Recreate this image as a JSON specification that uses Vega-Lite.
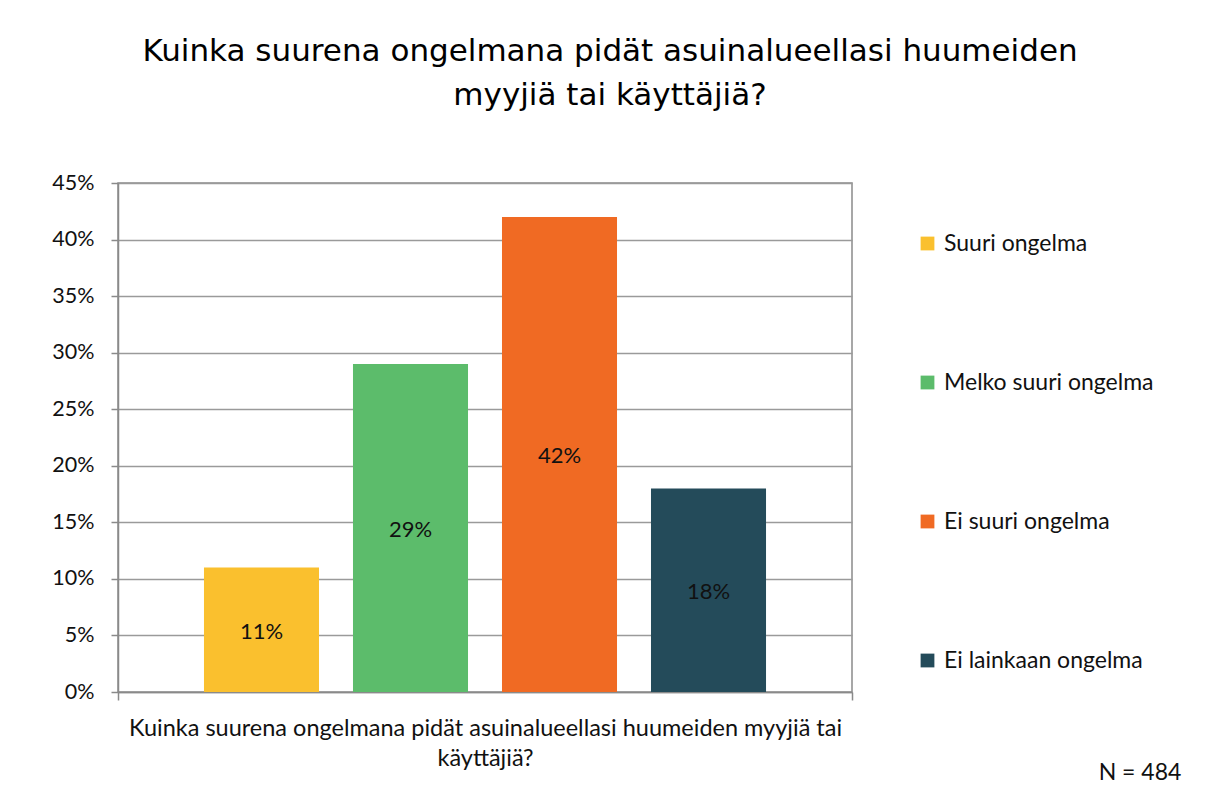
{
  "$schema": "https://vega.github.io/schema/vega-lite/v6.json",
  "width": 734,
  "height": 509,
  "autosize": {"type": "none"},
  "padding": {"left": 118, "top": 183, "right": 358, "bottom": 108},
  "background": "white",
  "title": {
    "text": ["Kuinka suurena ongelmana pidät asuinalueellasi huumeiden", "myyjiä tai käyttäjiä?"],
    "font": "DejaVu Sans",
    "fontSize": 31,
    "fontWeight": "normal",
    "color": "#000000",
    "anchor": "middle",
    "dx": 125,
    "offset": 60,
    "lineHeight": 44
  },
  "data": {
    "values": [
      {"q": "Kuinka suurena ongelmana pidät asuinalueellasi huumeiden myyjiä tai käyttäjiä?", "kategoria": "Suuri ongelma", "osuus": 0.11},
      {"q": "Kuinka suurena ongelmana pidät asuinalueellasi huumeiden myyjiä tai käyttäjiä?", "kategoria": "Melko suuri ongelma", "osuus": 0.29},
      {"q": "Kuinka suurena ongelmana pidät asuinalueellasi huumeiden myyjiä tai käyttäjiä?", "kategoria": "Ei suuri ongelma", "osuus": 0.42},
      {"q": "Kuinka suurena ongelmana pidät asuinalueellasi huumeiden myyjiä tai käyttäjiä?", "kategoria": "Ei lainkaan ongelma", "osuus": 0.18}
    ]
  },
  "config": {
    "view": {"stroke": "#8a8a8a", "strokeWidth": 1.5},
    "font": "Lato",
    "axis": {
      "domainColor": "#8a8a8a",
      "domainWidth": 1.5,
      "tickColor": "#8a8a8a",
      "tickWidth": 1.5,
      "gridColor": "#9a9a9a",
      "gridWidth": 1.5,
      "labelFont": "Lato",
      "labelColor": "#111111",
      "titleFont": "Lato",
      "titleColor": "#111111"
    }
  },
  "encoding": {
    "x": {
      "field": "q",
      "type": "nominal",
      "scale": {"paddingInner": 0, "paddingOuter": 0},
      "axis": {
        "labels": false,
        "tickBand": "extent",
        "tickSize": 8,
        "grid": false,
        "title": ["Kuinka suurena ongelmana pidät asuinalueellasi huumeiden myyjiä tai", "käyttäjiä?"],
        "titleFontSize": 23.5,
        "titleFontWeight": "normal",
        "titlePadding": 16,
        "titleLimit": 900,
        "titleLineHeight": 30
      }
    },
    "xOffset": {
      "field": "kategoria",
      "type": "nominal",
      "sort": ["Suuri ongelma", "Melko suuri ongelma", "Ei suuri ongelma", "Ei lainkaan ongelma"],
      "scale": {"paddingInner": 0.228, "paddingOuter": 0.577}
    }
  },
  "layer": [
    {
      "mark": {"type": "bar"},
      "encoding": {
        "y": {
          "field": "osuus",
          "type": "quantitative",
          "scale": {"domain": [0, 0.45]},
          "axis": {
            "title": null,
            "format": ".0%",
            "values": [0, 0.05, 0.1, 0.15, 0.2, 0.25, 0.3, 0.35, 0.4, 0.45],
            "labelFontSize": 21.5,
            "tickSize": 7,
            "labelPadding": 17,
            "grid": true
          }
        },
        "color": {
          "field": "kategoria",
          "type": "nominal",
          "sort": ["Suuri ongelma", "Melko suuri ongelma", "Ei suuri ongelma", "Ei lainkaan ongelma"],
          "scale": {
            "domain": ["Suuri ongelma", "Melko suuri ongelma", "Ei suuri ongelma", "Ei lainkaan ongelma"],
            "range": ["#fac02e", "#5cbc6b", "#f06a23", "#244b5a"]
          },
          "legend": {
            "title": null,
            "orient": "none",
            "legendX": 798,
            "legendY": 49,
            "symbolType": "square",
            "symbolSize": 190,
            "symbolStrokeWidth": 0,
            "labelFont": "Lato",
            "labelFontSize": 23,
            "labelColor": "#111111",
            "labelOffset": 5,
            "rowPadding": 115,
            "labelLimit": 400
          }
        }
      }
    },
    {
      "mark": {"type": "text", "baseline": "middle", "align": "center", "fontSize": 22, "font": "Lato", "color": "#111111", "dy": 2},
      "encoding": {
        "y": {"field": "osuus", "type": "quantitative", "scale": {"domain": [0, 0.9]}, "axis": null},
        "text": {"field": "osuus", "type": "quantitative", "format": ".0%"}
      }
    },
    {
      "data": {"values": [{"q": "Kuinka suurena ongelmana pidät asuinalueellasi huumeiden myyjiä tai käyttäjiä?", "merkinta": "N = 484"}]},
      "mark": {"type": "text", "align": "center", "baseline": "middle", "fontSize": 23, "font": "Lato", "color": "#111111", "dx": 1022, "dy": 81},
      "encoding": {
        "y": {"datum": 0, "type": "quantitative", "scale": {"domain": [0, 0.45]}, "axis": null},
        "xOffset": {"value": 0},
        "text": {"field": "merkinta", "type": "nominal"}
      }
    }
  ],
  "resolve": {"scale": {"y": "independent"}}
}
